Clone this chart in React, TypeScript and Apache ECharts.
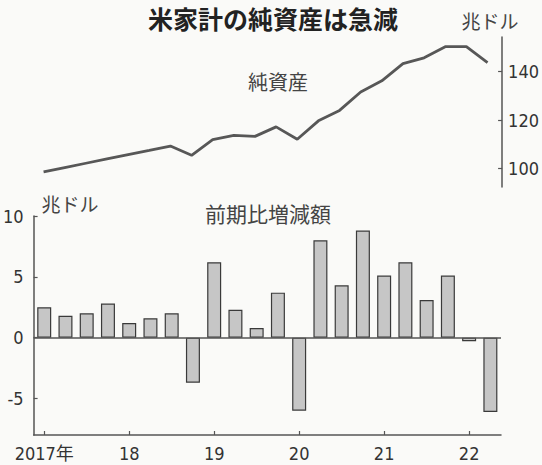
import React, { useEffect, useRef } from "react";
import * as echarts from "echarts";

// Quarterly series, 2017 Q1 – 2022 Q2
const quarters = [
  "2017/1Q", "2017/2Q", "2017/3Q", "2017/4Q",
  "2018/1Q", "2018/2Q", "2018/3Q", "2018/4Q",
  "2019/1Q", "2019/2Q", "2019/3Q", "2019/4Q",
  "2020/1Q", "2020/2Q", "2020/3Q", "2020/4Q",
  "2021/1Q", "2021/2Q", "2021/3Q", "2021/4Q",
  "2022/1Q", "2022/2Q",
];

// 純資産 (兆ドル)
const netWorth = [
  98.6, 100.4, 102.2, 104.0,
  105.8, 107.5, 109.3, 105.5,
  112.0, 113.7, 113.3, 117.2,
  112.1, 119.7, 124.0, 131.6,
  136.2, 143.3, 145.7, 150.3,
  150.3, 143.7,
];

// 前期比増減額 (兆ドル)
const changes = [
  2.5, 1.8, 2.0, 2.8,
  1.2, 1.6, 2.0, -3.7,
  6.2, 2.3, 0.8, 3.7,
  -6.0, 8.0, 4.3, 8.8,
  5.1, 6.2, 3.1, 5.1,
  -0.3, -6.1,
];

const yearLabels = ["2017年", "18", "19", "20", "21", "22"];
const netWorthTicks = [100, 120, 140];
const changeTicks = [-5, 0, 5, 10];

const JP = '"Noto Sans CJK JP", sans-serif';
const NUM = '"Liberation Sans Narrow", "DejaVu Sans Condensed", "Noto Sans CJK JP", sans-serif';
const INK = "#3a3a3a";
const AXIS = "#555";

export default function App() {
  const ref = useRef<HTMLDivElement | null>(null);

  useEffect(() => {
    document.body.style.margin = "0";
    if (!ref.current) return;
    const chart = echarts.init(ref.current, undefined, { renderer: "svg" });

    const axisLine = { show: true, lineStyle: { color: AXIS, width: 1.5 } };
    const tickStyle = { color: AXIS, width: 1.2 };
    const labelStyle = { color: "#333", fontSize: 18, fontFamily: NUM };

    chart.setOption({
      animation: false,
      backgroundColor: "#fafaf8",
      grid: [
        { left: 33, top: 37, width: 468, height: 150 },
        { left: 33, top: 216, width: 468, height: 219 },
      ],
      xAxis: [
        {
          gridIndex: 0,
          type: "category",
          data: quarters,
          boundaryGap: true,
          show: false,
        },
        {
          gridIndex: 1,
          type: "category",
          data: quarters,
          boundaryGap: true,
          axisLine: { ...axisLine, onZero: false },
          axisTick: {
            show: true,
            inside: true,
            length: 4,
            alignWithLabel: true,
            interval: (i: number) => i % 4 === 0,
            lineStyle: tickStyle,
          },
          axisLabel: {
            ...labelStyle,
            margin: 9,
            interval: (i: number) => i % 4 === 0,
            formatter: (_v: string, i: number) => yearLabels[i / 4] ?? "",
          },
          splitLine: { show: false },
        },
      ],
      yAxis: [
        {
          gridIndex: 0,
          type: "value",
          position: "right",
          offset: 4,
          min: 92.4,
          max: 154.3,
          axisLine,
          axisTick: {
            show: true,
            inside: true,
            length: 4,
            customValues: netWorthTicks,
            lineStyle: tickStyle,
          },
          axisLabel: { ...labelStyle, margin: 6, customValues: netWorthTicks },
          splitLine: { show: false },
        },
        {
          gridIndex: 1,
          type: "value",
          min: -8,
          max: 10,
          axisLine,
          axisTick: {
            show: true,
            inside: true,
            length: 4,
            customValues: changeTicks,
            lineStyle: tickStyle,
          },
          axisLabel: { ...labelStyle, margin: 10, customValues: changeTicks },
          splitLine: { show: false },
        },
      ],
      series: [
        {
          name: "純資産",
          type: "line",
          xAxisIndex: 0,
          yAxisIndex: 0,
          data: netWorth,
          symbol: "none",
          lineStyle: { color: "#575757", width: 2.8 },
        },
        {
          name: "前期比増減額",
          type: "bar",
          xAxisIndex: 1,
          yAxisIndex: 1,
          data: changes,
          barWidth: 14,
          itemStyle: { color: "#c6c6c6", borderColor: INK, borderWidth: 1.2 },
          markLine: {
            silent: true,
            symbol: "none",
            label: { show: false },
            lineStyle: { color: AXIS, width: 1.5, type: "solid" },
            data: [{ yAxis: 0 }],
          },
        },
      ],
      graphic: [
        {
          type: "text",
          x: 273,
          y: 18,
          style: {
            text: "米家計の純資産は急減",
            font: `bold 25px ${JP}`,
            fill: "#222",
            textAlign: "center",
            textVerticalAlign: "middle",
          },
        },
        {
          type: "text",
          x: 490,
          y: 20,
          style: {
            text: "兆ドル",
            font: `19px ${JP}`,
            fill: "#444",
            textAlign: "center",
            textVerticalAlign: "middle",
          },
        },
        {
          type: "text",
          x: 278,
          y: 81,
          style: {
            text: "純資産",
            font: `20px ${JP}`,
            fill: "#444",
            textAlign: "center",
            textVerticalAlign: "middle",
          },
        },
        {
          type: "text",
          x: 70,
          y: 203,
          style: {
            text: "兆ドル",
            font: `19px ${JP}`,
            fill: "#444",
            textAlign: "center",
            textVerticalAlign: "middle",
          },
        },
        {
          type: "text",
          x: 268,
          y: 213,
          style: {
            text: "前期比増減額",
            font: `21px ${JP}`,
            fill: "#444",
            textAlign: "center",
            textVerticalAlign: "middle",
          },
        },
      ],
    });

    return () => chart.dispose();
  }, []);

  return (
    <div
      ref={ref}
      style={{ position: "absolute", left: 0, top: 0, width: 542, height: 465 }}
    />
  );
}
